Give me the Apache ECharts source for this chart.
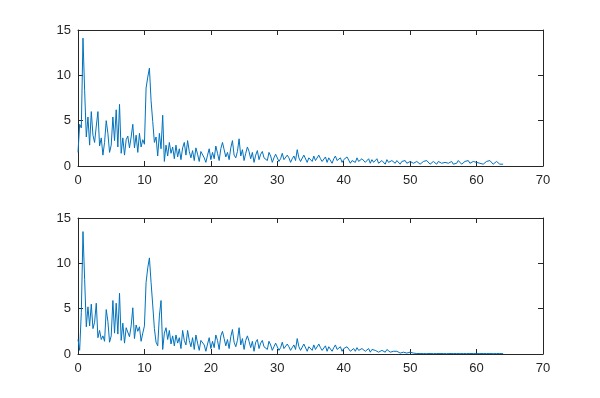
<!DOCTYPE html>
<html>
<head>
<meta charset="utf-8">
<script src="https://cdn.jsdelivr.net/npm/echarts@6/dist/echarts.min.js"></script>
<style>
  html, body { margin: 0; padding: 0; background: #fff; }
  #chart { width: 600px; height: 398px; }
</style>
</head>
<body>
<div id="chart"></div>
<script>
// frequency grid: samples every 0.25 from 0 to 64
const freqStep = 0.25
const xTicks = [0, 10, 20, 30, 40, 50, 60, 70]
const yTicks = [0, 5, 10, 15]

// upper spectrum
const spectrumTop = [
  1.5, 4.6, 4.2, 14.1, 8.3,
  3.2, 5.4, 2.3, 6.0, 3.4, 2.6, 4.4, 6.0, 2.2, 3.1, 1.2, 2.6,
  5.0, 3.6, 1.5, 2.3, 5.4, 2.8, 6.2, 2.1, 6.8, 1.4, 3.1, 1.2, 2.9, 3.3, 2.0, 3.2,
  4.6, 2.0, 3.4, 1.5, 3.6, 2.1, 2.9, 2.4, 8.6, 9.8, 10.8, 7.2, 4.9, 2.6, 3.2, 1.1,
  3.6, 1.9, 5.6, 0.5, 2.3, 1.1, 2.6, 1.4, 2.1, 0.8, 2.3, 1.0, 1.9, 0.7, 2.0, 2.6,
  1.2, 2.8, 1.6, 0.9, 1.7, 0.6, 2.0, 1.3, 0.5, 1.6, 1.8, 0.9, 0.4, 1.2, 1.9, 0.7,
  1.5, 0.8, 2.2, 1.4, 0.6, 1.9, 2.6, 1.8, 1.0, 1.5, 0.7, 2.0, 2.8, 1.2, 0.9, 1.6,
  3.0, 1.1, 1.8, 0.6, 1.4, 2.1, 1.6, 0.8, 1.5, 0.4, 1.2, 1.7, 0.7, 1.3, 1.6, 0.9,
  1.0, 0.6, 1.5, 1.1, 0.4, 0.9, 1.3, 1.2, 0.5, 0.8, 1.4, 0.7, 0.6, 1.2, 0.9, 0.4,
  0.8, 1.1, 0.6, 1.8, 0.9, 0.5, 0.7, 1.2, 1.0, 0.4, 0.9, 0.8, 0.5, 1.1, 0.6, 0.7,
  1.2, 0.8, 0.5, 0.6, 1.0, 0.4, 0.9, 0.7, 0.3, 0.8, 1.1, 0.6, 0.5, 0.9, 0.4, 0.7,
  0.5, 1.0, 0.8, 0.3, 0.6, 0.7, 0.4, 0.9, 0.5, 0.3, 0.8, 0.6, 0.4, 0.5, 0.8, 0.3,
  0.7, 0.4, 0.5, 0.8, 0.3, 0.4, 0.6, 0.5, 0.2, 0.7, 0.4, 0.3, 0.6, 0.5, 0.3, 0.6,
  0.4, 0.2, 0.5, 0.4, 0.6, 0.3, 0.2, 0.5, 0.4, 0.3, 0.2, 0.5, 0.4, 0.2, 0.3, 0.5,
  0.3, 0.6, 0.4, 0.2, 0.3, 0.5, 0.4, 0.2, 0.5, 0.6, 0.3, 0.2, 0.4, 0.5, 0.3, 0.4,
  0.5, 0.2, 0.4, 0.3, 0.6, 0.4, 0.2, 0.3, 0.5, 0.4, 0.6, 0.3, 0.2, 0.5, 0.3, 0.4,
  0.6, 0.3, 0.5, 0.2, 0.4, 0.5, 0.3, 0.6, 0.4, 0.2, 0.3, 0.5, 0.4, 0.2, 0.3, 0.2
]

// lower spectrum (tail dies out above ~50)
const spectrumBottom = [
  1.6, 0.4, 4.6, 13.5, 8.2,
  3.0, 5.2, 3.1, 5.5, 2.8, 3.5, 5.6, 1.8, 2.6, 1.6, 2.0, 1.4,
  4.9, 3.6, 1.3, 2.0, 5.9, 2.3, 5.6, 2.2, 6.7, 1.5, 3.4, 1.2, 2.9, 2.7, 1.9, 3.1,
  5.1, 1.7, 3.2, 2.5, 3.0, 1.4, 2.3, 3.1, 7.9, 9.5, 10.6, 7.9, 5.4, 2.8, 1.3, 0.9,
  4.2, 5.9, 0.5, 2.3, 2.9, 1.6, 2.6, 1.1, 2.0, 0.9, 2.1, 1.2, 1.8, 0.6, 2.6, 1.5,
  1.0, 2.6, 1.5, 0.8, 1.8, 0.5, 2.1, 1.2, 0.4, 1.5, 1.7, 1.0, 0.3, 1.1, 1.8, 0.6,
  1.4, 0.7, 2.1, 1.5, 0.5, 2.0, 2.5, 1.7, 0.9, 1.6, 0.6, 1.9, 2.7, 1.3, 0.8, 1.5,
  2.9, 1.0, 1.7, 0.5, 1.5, 2.0, 1.4, 0.7, 1.4, 0.3, 1.3, 1.6, 0.6, 1.2, 1.5, 0.8,
  0.9, 0.5, 1.4, 1.0, 0.4, 0.8, 1.2, 1.1, 0.4, 0.7, 1.3, 0.6, 0.5, 1.1, 0.8, 0.4,
  0.7, 1.0, 0.5, 1.7, 0.8, 0.4, 0.6, 1.1, 0.9, 0.3, 0.8, 0.7, 0.4, 1.0, 0.5, 0.6,
  1.1, 0.7, 0.4, 0.5, 0.9, 0.3, 0.8, 0.6, 0.3, 0.7, 1.0, 0.5, 0.4, 0.8, 0.3, 0.6,
  0.4, 0.8, 0.7, 0.3, 0.5, 0.6, 0.3, 0.7, 0.4, 0.2, 0.6, 0.5, 0.3, 0.4, 0.6, 0.2,
  0.5, 0.3, 0.4, 0.6, 0.2, 0.3, 0.4, 0.3, 0.2, 0.5, 0.3, 0.2, 0.4, 0.3, 0.2, 0.3,
  0.2, 0.1, 0.3, 0.2, 0.2, 0.1, 0.1, 0.2, 0.1, 0.1, 0.05, 0.05, 0.05, 0.05, 0.05, 0.05,
  0.05, 0.04, 0.05, 0.06, 0.05, 0.04, 0.05, 0.05, 0.06, 0.05, 0.04, 0.05, 0.05, 0.04, 0.05, 0.05,
  0.04, 0.05, 0.05, 0.06, 0.05, 0.04, 0.05, 0.05, 0.04, 0.05, 0.06, 0.05, 0.04, 0.05, 0.05, 0.04,
  0.05, 0.05, 0.04, 0.05, 0.06, 0.05, 0.04, 0.05, 0.05, 0.04, 0.05, 0.05, 0.04, 0.05, 0.04, 0.04
]

const axisColor = '#262626'
const lineColor = '#0072BD'

const toPairs = (vals) => vals.map((v, i) => [i * freqStep, v])

const grids = [
  { left: 78, width: 465, top: 30, height: 136 },
  { left: 78, width: 465, top: 218, height: 136 }
]

const xAxes = []
const yAxes = []
grids.forEach((g, gi) => {
  // bottom / left axes carry labels; top / right ones close the box
  ;['bottom', 'top'].forEach((pos) => {
    xAxes.push({
      type: 'value',
      gridIndex: gi,
      position: pos,
      min: xTicks[0],
      max: xTicks[xTicks.length - 1],
      interval: 10,
      axisLine: { show: true, onZero: false, lineStyle: { color: axisColor, width: 1 } },
      axisTick: { show: true, inside: true, length: 5, lineStyle: { color: axisColor } },
      axisLabel: {
        show: pos === 'bottom',
        color: axisColor,
        fontSize: 13,
        fontFamily: 'Liberation Sans, Arial, sans-serif',
        margin: 8
      },
      splitLine: { show: false }
    })
  })
  ;['left', 'right'].forEach((pos) => {
    yAxes.push({
      type: 'value',
      gridIndex: gi,
      position: pos,
      min: yTicks[0],
      max: yTicks[yTicks.length - 1],
      interval: 5,
      axisLine: { show: true, onZero: false, lineStyle: { color: axisColor, width: 1 } },
      axisTick: { show: true, inside: true, length: 5, lineStyle: { color: axisColor } },
      axisLabel: {
        show: pos === 'left',
        color: axisColor,
        fontSize: 13,
        fontFamily: 'Liberation Sans, Arial, sans-serif',
        margin: 7
      },
      splitLine: { show: false }
    })
  })
})

const chart = echarts.init(document.getElementById('chart'))
chart.setOption({
  animation: false,
  backgroundColor: '#fff',
  grid: grids,
  xAxis: xAxes,
  yAxis: yAxes,
  series: [
    {
      type: 'line',
      xAxisIndex: 0,
      yAxisIndex: 0,
      data: toPairs(spectrumTop),
      showSymbol: false,
      lineStyle: { color: lineColor, width: 1 },
      z: 1
    },
    {
      type: 'line',
      xAxisIndex: 2,
      yAxisIndex: 2,
      data: toPairs(spectrumBottom),
      showSymbol: false,
      lineStyle: { color: lineColor, width: 1 },
      z: 1
    }
  ]
})
</script>
</body>
</html>
